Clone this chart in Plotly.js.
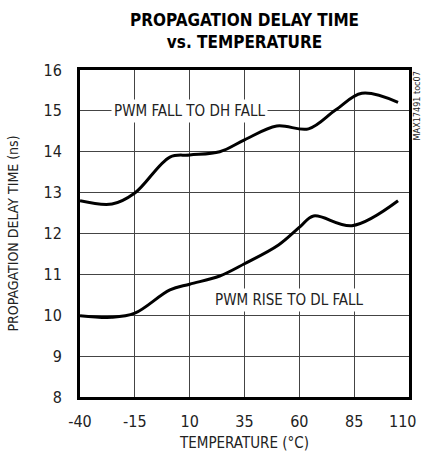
<!DOCTYPE html>
<html>
<head>
<meta charset="utf-8">
<script src="https://cdn.plot.ly/plotly-3.0.1.min.js"></script>
<style>html,body{margin:0;padding:0;background:#fff;}#chart{width:421px;height:459px;}</style>
</head>
<body>
<div id="chart"></div>
<script>
// Temperature (°C)
const tempFall = [-40, -25.4, -15, 1, 10, 23.7, 35, 49.7, 64.2, 76.5, 88.5, 105];
const delayFall = [12.80, 12.72, 12.99, 13.87, 13.92, 14.00, 14.29, 14.63, 14.56, 15.02, 15.43, 15.21];
const tempRise = [-40, -25.5, -15, 1, 10, 23.7, 35, 50.5, 60.4, 66.5, 84, 105];
const delayRise = [9.99, 9.95, 10.05, 10.62, 10.76, 10.96, 11.26, 11.72, 12.17, 12.43, 12.19, 12.80];
const xTicks = [-40, -15, 10, 35, 60, 85, 110];
const xTickText = ["-40", "-15", "10", "35", "60", "85", "110"];
const yTicks = [8, 9, 10, 11, 12, 13, 14, 15, 16];
const labelFall = "PWM FALL TO DH FALL";
const labelRise = "PWM RISE TO DL FALL";
const chartTitle = "PROPAGATION DELAY TIME<br>vs. TEMPERATURE";
const sideLabel = "MAX17491 toc07";

const narrow = '"DejaVu Sans Condensed", "Liberation Sans Narrow", Arial, sans-serif';
const lastIdx = xTicks.length - 1;
// the last tick label sits right-aligned at the plot edge (as in the reference), so it is drawn as an annotation
const axisTickText = xTickText.map((t, i) => i === lastIdx ? '' : t);

const traces = [
  {x: tempFall, y: delayFall, mode: 'lines', line: {color: '#000', width: 3, shape: 'spline', smoothing: 1}, hoverinfo: 'skip'},
  {x: tempRise, y: delayRise, mode: 'lines', line: {color: '#000', width: 3, shape: 'spline', smoothing: 1}, hoverinfo: 'skip'}
];

const layout = {
  width: 421, height: 459,
  margin: {l: 80, r: 12, t: 70, b: 62},
  paper_bgcolor: '#fff', plot_bgcolor: '#fff',
  showlegend: false,
  font: {family: narrow, color: '#222', size: 15},
  xaxis: {
    range: [-40, 110], tickvals: xTicks, ticktext: axisTickText,
    showgrid: true, gridcolor: '#444', gridwidth: 1,
    showline: true, linecolor: '#000', linewidth: 3, mirror: true,
    ticks: '', zeroline: false, fixedrange: true, ticklabelstandoff: 8,
    tickfont: {family: narrow, size: 16, color: '#222'},
    title: {text: 'TEMPERATURE (°C)', font: {family: narrow, size: 15, color: '#222'}, standoff: 8}
  },
  yaxis: {
    range: [8, 16], tickvals: yTicks,
    showgrid: true, gridcolor: '#444', gridwidth: 1,
    showline: true, linecolor: '#000', linewidth: 3, mirror: true,
    ticks: '', zeroline: false, fixedrange: true, ticklabelstandoff: 12,
    tickfont: {family: narrow, size: 16, color: '#222'},
    title: {text: 'PROPAGATION DELAY TIME (ns)', font: {family: narrow, size: 14, color: '#222'}, standoff: 22}
  },
  annotations: [
    {x: 0.5, y: 1.12, xref: 'paper', yref: 'paper', text: '<b>' + chartTitle + '</b>', showarrow: false,
     xanchor: 'center', yanchor: 'middle', font: {family: narrow, size: 17, color: '#000'}},
    {x: 10, y: 15, xref: 'x', yref: 'y', text: labelFall, showarrow: false,
     bgcolor: '#fff', borderpad: 2, font: {family: narrow, size: 15, color: '#222'}},
    {x: 55.3, y: 10.38, xref: 'x', yref: 'y', text: labelRise, showarrow: false,
     bgcolor: '#fff', borderpad: 2, font: {family: narrow, size: 15, color: '#222'}},
    {x: 1.024, y: 1.0, xref: 'paper', yref: 'paper', text: sideLabel, showarrow: false,
     textangle: -90, xanchor: 'center', yanchor: 'top', borderpad: 0,
     font: {family: narrow, size: 9, color: '#222'}},
    {x: xTicks[lastIdx], y: 0, xref: 'x', yref: 'paper', text: xTickText[lastIdx], showarrow: false,
     xanchor: 'right', yanchor: 'top', xshift: 8, yshift: -14, borderpad: 0,
     font: {family: narrow, size: 16, color: '#222'}}
  ]
};

Plotly.newPlot('chart', traces, layout, {staticPlot: true, displayModeBar: false});
</script>
</body>
</html>
